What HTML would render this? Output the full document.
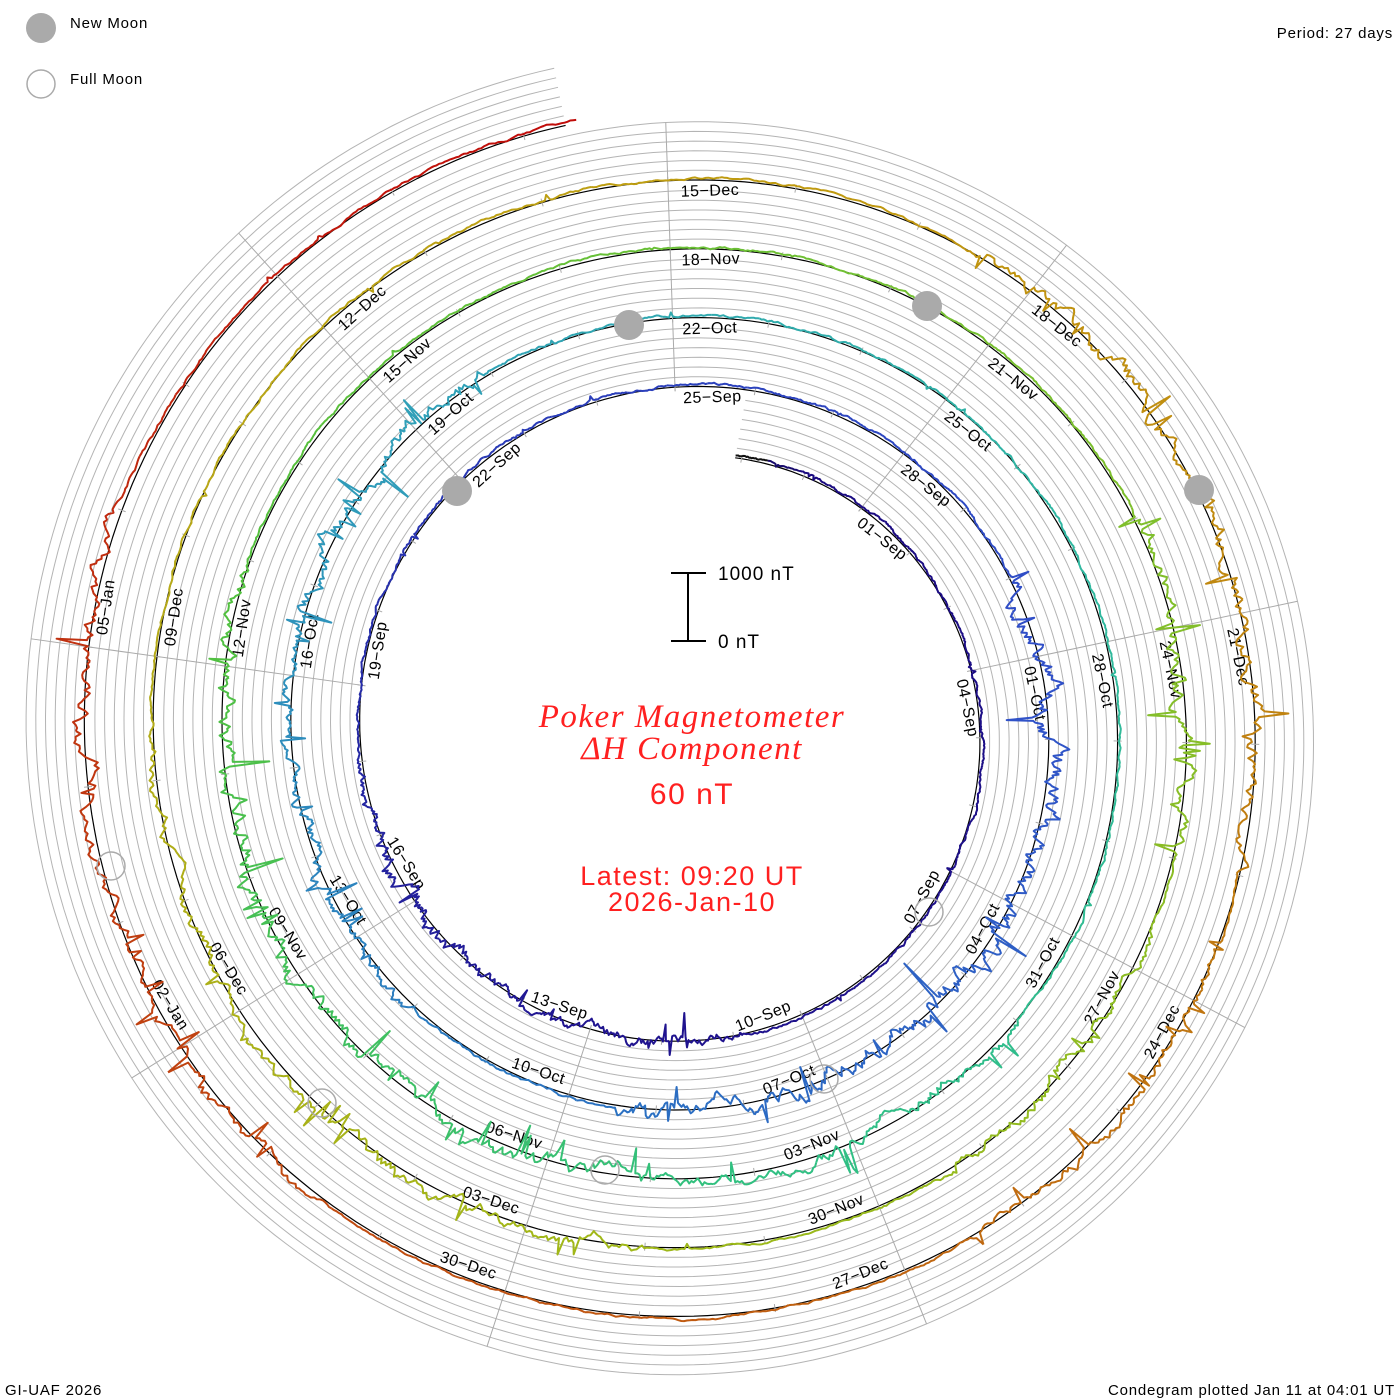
<!DOCTYPE html>
<html><head><meta charset="utf-8">
<style>
html,body{margin:0;padding:0;background:#fff;}
svg{display:block;}
text{font-family:"Liberation Sans",sans-serif;}
</style></head>
<body>
<svg id="s" width="1400" height="1400" viewBox="0 0 1400 1400" xmlns="http://www.w3.org/2000/svg">
<g id="grid"></g>
<g id="spokes"></g>
<g id="base"></g>
<g id="ticks"></g>
<g id="labels" font-size="16" fill="#000" letter-spacing="0.5"></g>
<g id="traces"></g>
<g id="moons">
<circle cx="41" cy="28" r="15" fill="#aaa"/>
<circle cx="41" cy="84" r="14" fill="none" stroke="#aaa" stroke-width="1.5"/>
<circle cx="629" cy="325" r="15" fill="#aaa"/>
<circle cx="457" cy="491" r="15" fill="#aaa"/>
<circle cx="927" cy="306" r="15" fill="#aaa"/>
<circle cx="1199" cy="490" r="15" fill="#aaa"/>
<circle cx="929" cy="912" r="14" fill="none" stroke="#aaa" stroke-width="1.5"/>
<circle cx="824" cy="1079" r="14" fill="none" stroke="#aaa" stroke-width="1.5"/>
<circle cx="322" cy="1103" r="14" fill="none" stroke="#aaa" stroke-width="1.5"/>
<circle cx="605" cy="1170" r="14" fill="none" stroke="#aaa" stroke-width="1.5"/>
<circle cx="111" cy="866" r="14" fill="none" stroke="#aaa" stroke-width="1.5"/>
</g>
<text x="70" y="28" font-size="15" letter-spacing="0.8">New Moon</text>
<text x="70" y="84" font-size="15" letter-spacing="0.8">Full Moon</text>
<text x="1393" y="38" font-size="15" text-anchor="end" letter-spacing="0.8">Period: 27 days</text>
<text x="5" y="1395" font-size="15" letter-spacing="0.8">GI-UAF 2026</text>
<text x="1395" y="1395" font-size="15" text-anchor="end" letter-spacing="0.8">Condegram plotted Jan 11 at 04:01 UT</text>
<g stroke="#000" stroke-width="2">
<line x1="688" y1="573" x2="688" y2="641"/>
<line x1="671" y1="573" x2="706" y2="573"/>
<line x1="671" y1="641" x2="706" y2="641"/>
</g>
<text x="718" y="580" font-size="19" letter-spacing="1">1000 nT</text>
<text x="718" y="648" font-size="19" letter-spacing="1">0 nT</text>
<g fill="#ff2020" text-anchor="middle">
<text x="692" y="727" font-size="33" font-style="italic" letter-spacing="1.5" style="font-family:'Liberation Serif',serif">Poker Magnetometer</text>
<text x="692" y="759" font-size="33" font-style="italic" letter-spacing="1.5" style="font-family:'Liberation Serif',serif">ΔH Component</text>
<text x="692" y="804" font-size="30" letter-spacing="1.5">60 nT</text>
<text x="692" y="885" font-size="27" letter-spacing="1.5">Latest: 09:20 UT</text>
<text x="692" y="911" font-size="27" letter-spacing="1.5">2026-Jan-10</text>
</g>
</svg>
<script>
(function(){
var NS="http://www.w3.org/2000/svg";
var CX=687,CY=731,R0=282.8,K=2.55,DEND=131.39,DSTART=-2.1,A0=308,GS=68/7;
function thd(d){return A0+d*360/27;}
function th(d){return thd(d)*Math.PI/180;}
function rb(d){return R0+K*d;}
function pt(d,r){var a=th(d);return [CX+r*Math.cos(a),CY+r*Math.sin(a)];}
function el(n,at,p){var e=document.createElementNS(NS,n);for(var k in at)e.setAttribute(k,at[k]);p.appendChild(e);return e;}
var G=document.getElementById('grid'),S=document.getElementById('spokes'),B=document.getElementById('base'),TK=document.getElementById('ticks'),L=document.getElementById('labels'),T=document.getElementById('traces');
for(var j=1;j<=6;j++){var s="";for(var d=DSTART;d<=DEND;d+=0.1){var p=pt(d,rb(d)+j*GS);s+=(s?"L":"M")+p[0].toFixed(1)+","+p[1].toFixed(1);}
el('path',{d:s,fill:'none',stroke:'#b4b4b4','stroke-width':1},G);}
var s="";for(var d=DSTART;d<=DEND;d+=0.1){var p=pt(d,rb(d));s+=(s?"L":"M")+p[0].toFixed(1)+","+p[1].toFixed(1);}
el('path',{d:s,fill:'none',stroke:'#000','stroke-width':1.2},B);
for(var d=-2;d<=131;d++){var a=pt(d,rb(d)-4),b=pt(d,rb(d)+4);el('line',{x1:a[0],y1:a[1],x2:b[0],y2:b[1],stroke:'#aaa','stroke-width':1},TK);}
for(var k=0;k<9;k++){var d0=k*3;while(d0-27>=DSTART)d0-=27;if(d0<DSTART)d0+=27;var d1=d0;while(d1+27<=DEND)d1+=27;
var p0=pt(d0,rb(d0)-4),p1=pt(d1,rb(d1)+6*GS);
el('line',{x1:p0[0],y1:p0[1],x2:p1[0],y2:p1[1],stroke:'#aaa','stroke-width':1},S);}
var mon=["Sep","Oct","Nov","Dec","Jan"],ml=[30,31,30,31,31];
for(var d=0;d<=126;d+=3){var m=0,dd=d;while(dd>=ml[m]){dd-=ml[m];m++;}
var day=dd+1;var txt=(day<10?"0":"")+day+"\u2212"+mon[m];
var a=th(d+0.1),r=rb(d)-12;var x=CX+r*Math.cos(a),y=CY+r*Math.sin(a);
var deg=thd(d)%360;var rot=deg+90,anc='start';
if(deg>0&&deg<180){rot+=180;anc='end';}
var t=el('text',{x:x.toFixed(1),y:y.toFixed(1),transform:'rotate('+rot.toFixed(1)+' '+x.toFixed(1)+' '+y.toFixed(1)+')','dominant-baseline':'middle','text-anchor':anc},L);t.textContent=txt;}
function hx(h){return [parseInt(h.substr(1,2),16),parseInt(h.substr(3,2),16),parseInt(h.substr(5,2),16)];}
var stops=[[-2.1,"#101010"],[-1.5,"#1a0a80"],[12,"#201490"],[22,"#2a3cb8"],[30,"#3050c8"],[40,"#2a78c0"],[48,"#30a0b8"],[56,"#30b8a0"],[64,"#30c080"],[72,"#50c040"],[81,"#78c030"],[92,"#a0b818"],[100,"#b8a818"],[106,"#c09a10"],[110,"#c08a10"],[116,"#c06a10"],[120,"#c05010"],[126,"#c03010"],[131.4,"#c00808"]].map(function(x){return [x[0],hx(x[1])];});
function col(d){for(var i=0;i<stops.length-1;i++){if(d<=stops[i+1][0]){var f=(d-stops[i][0])/(stops[i+1][0]-stops[i][0]);var a=stops[i][1],b=stops[i+1][1];return "rgb("+[0,1,2].map(function(q){return Math.round(a[q]+(b[q]-a[q])*f);}).join(",")+")";}}return "rgb(192,8,8)";}
var seed=12345;function rnd(){seed=(seed*1103515245+12345)%2147483648;return seed/2147483648;}
var storms=[[11.5,1.5,0.6],[15,2,0.7],[31,2,1],[34,2.5,1],[36.5,2,0.8],[43,2,0.7],[47,2,0.8],[63,2,0.7],[66,1.5,0.8],[70,3,1],[84.5,1.5,0.8],[88,1.5,0.6],[94,2,0.7],[97,1.5,0.6],[109,1.5,0.8],[111.5,1.5,0.9],[115,1.5,0.6],[123,1.5,0.6],[125.5,1.5,0.9]];
function act(d){var v=0.12;for(var i=0;i<storms.length;i++){var c=storms[i][0],w=storms[i][1];var x=(d-c)/w;if(Math.abs(x)<1)v=Math.max(v,storms[i][2]*(1-Math.abs(x)*0.4));}return v;}
var walk=0,step=1/48,pts=[];
for(var d=DSTART;d<=DEND;d+=step){var A=act(d);walk=walk*0.88+(rnd()-0.5)*14*A;var sp=(rnd()<0.08*A)?(rnd()-0.55)*90*A:0;
var off=2+walk+sp;pts.push([d,pt(d,rb(d)+off)]);}
var seg=24;for(var i=0;i<pts.length-1;i+=seg){var s="";for(var q=i;q<=Math.min(i+seg,pts.length-1);q++){s+=(s?"L":"M")+pts[q][1][0].toFixed(1)+","+pts[q][1][1].toFixed(1);}
el('path',{d:s,fill:'none',stroke:col(pts[i][0]),'stroke-width':2,'stroke-linejoin':'round'},T);}
})();
</script>
</body></html>
